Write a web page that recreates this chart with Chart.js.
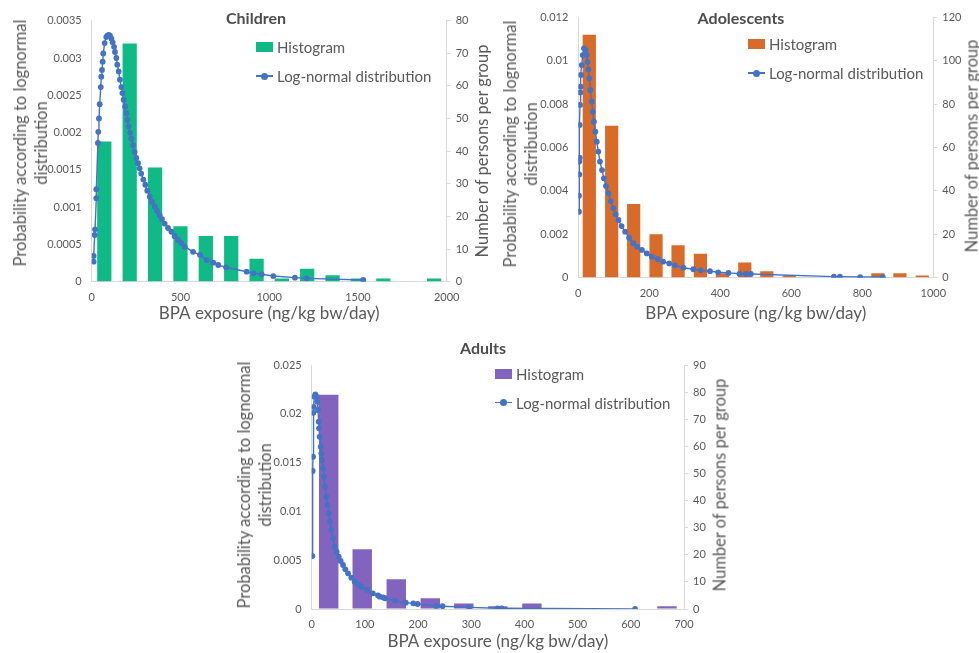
<!DOCTYPE html>
<html>
<head>
<meta charset="utf-8">
<script src="https://cdn.jsdelivr.net/npm/chart.js@4.4.1/dist/chart.umd.min.js"></script>
<style>
    body { margin: 0; background: #fff; }
    #page { position: relative; width: 979px; height: 653px; overflow: hidden; font-family: Lato, sans-serif; }
    .panel { position: absolute; }
    .title { position: absolute; font: bold 16px Lato, sans-serif; color: #4d4d4d; transform: translate(-50%, -50%); white-space: nowrap; }
    .rtitle { position: absolute; font: 16.5px Lato, sans-serif; line-height: 21px; color: #595959; text-align: center; transform: translate(-50%, -50%) rotate(-90deg); white-space: nowrap; }
    .lrow { position: absolute; height: 20px; line-height: 20px; font: 15px Lato, sans-serif; color: #595959; white-space: nowrap; display: flex; align-items: center; }
    .swatch { position: relative; width: 17px; height: 10px; margin-right: 4px; }
    .swatch .ln { position: absolute; left: 0; right: 0; top: 4px; height: 1.5px; }
    .swatch .dot { position: absolute; left: 5px; top: 1.5px; width: 7px; height: 7px; border-radius: 50%; }
</style>
</head>
<body>
<div id="page"></div>
<script>
// histogram: bin centres (ng/kg bw/day) and number of persons per bin
const childBins = [71, 214, 357, 500, 643, 786, 929, 1071, 1214, 1357, 1500, 1643, 1786, 1929];
const childCounts = [43, 73, 35, 17, 14, 14, 7, 1, 4, 2, 1, 1, 0, 1];
const teenBins = [31, 94, 156, 219, 281, 344, 406, 469, 531, 594, 656, 719, 781, 844, 906, 969];
const teenCounts = [112, 70, 34, 20, 15, 11, 2, 7, 3, 1, 0, 0, 0, 2, 2, 1];
const adultBins = [32, 95, 159, 223, 286, 350, 414, 477, 541, 605, 668];
const adultCounts = [79, 22, 11, 4, 2, 1, 2, 0, 0, 0, 1];

// log-normal curve
const childCurveX = [11, 11, 17, 19, 26, 26, 35, 37, 41, 45, 51, 54, 58, 62, 65, 73, 82, 88, 96, 103, 111, 118, 126, 131, 139, 144, 152, 159, 167, 173, 180, 188, 195, 201, 208, 216, 223, 233, 242, 251, 261, 270, 279, 291, 302, 313, 327, 340, 355, 368, 383, 396, 411, 430, 449, 467, 486, 505, 524, 571, 610, 648, 685, 713, 757, 873, 911, 958, 1023, 1145, 1211, 1530];
const childCurveY = [0.000268, 0.000345, 0.000626, 0.000703, 0.00112, 0.00124, 0.00186, 0.00201, 0.00219, 0.00238, 0.00261, 0.00275, 0.00284, 0.00295, 0.00306, 0.0032, 0.00328, 0.0033, 0.00331, 0.0033, 0.00326, 0.00321, 0.00315, 0.00308, 0.003, 0.00291, 0.00282, 0.00271, 0.00261, 0.00253, 0.00244, 0.00235, 0.00226, 0.00217, 0.00208, 0.002, 0.00192, 0.00183, 0.00174, 0.00166, 0.00159, 0.00152, 0.00145, 0.00137, 0.0013, 0.00122, 0.00114, 0.00107, 0.00101, 0.00095, 0.00089, 0.00084, 0.00078, 0.00072, 0.00067, 0.00061, 0.00056, 0.00052, 0.00047, 0.0004, 0.00036, 0.00029, 0.000255, 0.000224, 0.000193, 0.000134, 0.000112, 0.000099, 0.000076, 0.000054, 0.000045, 0.000023];
const teenCurveX = [2, 2, 2.8, 2.8, 3.9, 3.9, 4.8, 5.6, 6.6, 7.6, 9.6, 12.4, 16, 21, 23.6, 26, 28.3, 31, 33.9, 38, 40.5, 44, 48, 52, 56.4, 61, 66.8, 72, 78, 85, 91.2, 99, 105.3, 113, 122, 132, 143, 155, 166, 179, 193, 207, 224, 239, 256, 272, 296, 324, 345, 371, 394, 423, 454, 472, 486, 720, 737, 794, 858];
const teenCurveY = [0.00304, 0.00378, 0.00476, 0.00535, 0.00553, 0.00704, 0.00796, 0.00854, 0.0088, 0.00934, 0.0098, 0.01026, 0.01057, 0.01049, 0.01026, 0.00995, 0.0096, 0.00919, 0.00865, 0.00811, 0.00765, 0.00719, 0.00673, 0.00627, 0.00581, 0.00535, 0.00496, 0.00458, 0.00423, 0.00389, 0.00353, 0.0032, 0.00292, 0.00266, 0.00238, 0.00212, 0.00184, 0.00159, 0.00143, 0.00128, 0.00112, 0.00097, 0.00085, 0.00074, 0.00066, 0.00057, 0.00046, 0.00039, 0.00034, 0.0003, 0.00025, 0.00022, 0.00018, 0.00017, 0.00017, 0.00005, 0.00005, 0.00003, 0.00003];
const adultCurveX = [1.2, 1.8, 2.5, 3.1, 3.8, 5, 6.8, 9.4, 10.5, 11.8, 13.2, 13.7, 15, 16.9, 18.1, 19.4, 21.2, 23.1, 25, 27.5, 29.4, 32, 34.4, 36.9, 40, 43.2, 46.9, 50.8, 54.5, 58.9, 63.2, 68.3, 74.5, 80.8, 87, 93.3, 104, 115, 124.6, 128, 134, 138, 157, 177, 191, 199, 234, 246, 296, 349, 357, 608];
const adultCurveY = [0.00543, 0.01414, 0.0156, 0.0201, 0.0207, 0.02175, 0.022, 0.02175, 0.02124, 0.02039, 0.01919, 0.01851, 0.01765, 0.01663, 0.01595, 0.01527, 0.01441, 0.01355, 0.01253, 0.0115, 0.01066, 0.0098, 0.00895, 0.0081, 0.00724, 0.00638, 0.00587, 0.00536, 0.00492, 0.00451, 0.00406, 0.00366, 0.00321, 0.0028, 0.00253, 0.00228, 0.00195, 0.00161, 0.0014, 0.00126, 0.0012, 0.0011, 0.00085, 0.00065, 0.00058, 0.00051, 0.00031, 0.00028, 0.00017, 0.00007, 0.00007, 0];

// tick labels
const childExposureTicks = [0, 500, 1000, 1500, 2000];
const childProbTicks = [0, 0.0005, 0.001, 0.0015, 0.002, 0.0025, 0.003, 0.0035];
const childCountTicks = [0, 10, 20, 30, 40, 50, 60, 70, 80];
const teenExposureTicks = [0, 200, 400, 600, 800, 1000];
const teenProbTicks = [0, 0.002, 0.004, 0.006, 0.008, 0.01, 0.012];
const teenCountTicks = [0, 20, 40, 60, 80, 100, 120];
const adultExposureTicks = [0, 100, 200, 300, 400, 500, 600, 700];
const adultProbTicks = [0, 0.005, 0.01, 0.015, 0.02, 0.025];
const adultCountTicks = [0, 10, 20, 30, 40, 50, 60, 70, 80, 90];

const lineBlue = '#4472C4';
const axisGray = '#d9d9d9';
const textGray = '#595959';
const fontName = 'Lato';

function pairs(xs, ys) {
    return xs.map(function (x, i) { return { x: x, y: ys[i] }; });
}

function setTicks(list) {
    return function (scale) {
        scale.ticks = list.map(function (v) { return { value: v }; });
    };
}

function fmt(v) {
    return String(Number(v.toFixed(6)));
}

function addText(cls, lines, x, y) {
    let el = document.createElement('div');
    el.className = cls;
    lines.forEach(function (t, i) {
        if (i > 0) el.appendChild(document.createElement('br'));
        el.appendChild(document.createTextNode(t));
    });
    el.style.left = x + 'px';
    el.style.top = y + 'px';
    document.getElementById('page').appendChild(el);
}

function drawPanel(p) {
    let page = document.getElementById('page');

    let wrap = document.createElement('div');
    wrap.className = 'panel';
    wrap.style.left = p.left + 'px';
    wrap.style.top = p.top + 'px';
    let canvas = document.createElement('canvas');
    canvas.width = p.width;
    canvas.height = p.height;
    canvas.style.width = p.width + 'px';
    canvas.style.height = p.height + 'px';
    wrap.appendChild(canvas);
    page.appendChild(wrap);

    addText('title', [p.title], p.titleX, p.titleY);
    // both y titles read bottom-to-top
    addText('rtitle', ['Probability according to lognormal', 'distribution'], p.lTitleX, p.lTitleY);
    addText('rtitle', ['Number of persons per group'], p.rTitleX, p.rTitleY);

    let chart = new Chart(canvas.getContext('2d'), {
        type: 'bar',
        data: {
            datasets: [{
                type: 'bar',
                label: 'Histogram',
                data: pairs(p.bins, p.counts),
                yAxisID: 'y1',
                order: 2,
                backgroundColor: p.color,
                borderWidth: 0,
                categoryPercentage: 1,
                barPercentage: p.barPct
            }, {
                type: 'line',
                label: 'Log-normal distribution',
                data: pairs(p.curveX, p.curveY),
                yAxisID: 'y',
                order: 1,
                borderColor: lineBlue,
                backgroundColor: lineBlue,
                borderWidth: 1.4,
                pointRadius: 2.9,
                pointBorderWidth: 0,
                pointBackgroundColor: lineBlue,
                tension: 0
            }]
        },
        options: {
            responsive: false,
            animation: false,
            layout: { padding: { top: p.plotTop, left: 0, right: 0, bottom: 0 } },
            plugins: {
                legend: { display: false },
                title: { display: false },
                tooltip: { enabled: false }
            },
            scales: {
                x: {
                    type: 'linear',
                    min: p.xTicks[0],
                    max: p.xTicks[p.xTicks.length - 1],
                    offset: false,
                    grid: { display: false, drawTicks: false, offset: false },
                    border: { display: true, color: axisGray },
                    afterBuildTicks: setTicks(p.xTicks),
                    afterFit: function (s) { s.height = p.bottomH; },
                    ticks: { padding: 9, color: textGray, autoSkip: false, maxRotation: 0, font: { family: fontName, size: 11 }, callback: fmt },
                    title: { display: true, text: 'BPA exposure (ng/kg bw/day)', color: textGray, font: { family: fontName, size: 17 }, padding: { top: 0, bottom: p.xTitlePad } }
                },
                y: {
                    position: 'left',
                    min: 0,
                    max: p.probTicks[p.probTicks.length - 1],
                    grid: { display: false, drawTicks: false },
                    border: { display: true, color: axisGray },
                    afterBuildTicks: setTicks(p.probTicks),
                    afterFit: function (s) { s.width = p.leftW; },
                    ticks: { padding: 10, color: textGray, font: { family: fontName, size: 11 }, callback: fmt },
                    title: { display: false }
                },
                y1: {
                    position: 'right',
                    min: 0,
                    max: p.countTicks[p.countTicks.length - 1],
                    grid: { display: true, drawOnChartArea: false, drawTicks: true, tickLength: 4, color: axisGray },
                    border: { display: true, color: axisGray },
                    afterBuildTicks: setTicks(p.countTicks),
                    afterFit: function (s) { s.width = p.rightW; },
                    ticks: { padding: 5, color: textGray, font: { family: fontName, size: 11 }, callback: fmt },
                    title: { display: false }
                }
            }
        }
    });

    // legend built from the chart's own datasets
    chart.data.datasets.forEach(function (ds, i) {
        let row = document.createElement('div');
        row.className = 'lrow';
        row.style.left = p.legendX + 'px';
        row.style.top = (p.legendY[i] - 10) + 'px';
        let sw = document.createElement('div');
        sw.className = 'swatch';
        if (ds.type === 'bar') {
            sw.style.background = ds.backgroundColor;
        } else {
            sw.innerHTML = "<div class='ln' style='background:" + ds.borderColor + "'></div>" +
                "<div class='dot' style='background:" + ds.borderColor + "'></div>";
        }
        row.appendChild(sw);
        row.appendChild(document.createTextNode(ds.label));
        page.appendChild(row);
    });
}

drawPanel({
    title: 'Children', titleX: 256, titleY: 17,
    left: 0, top: 0, width: 490, height: 327,
    plotTop: 20.7, leftW: 91.7, rightW: 43.3, bottomH: 45.3, xTitlePad: 2.8,
    lTitleX: 30.5, lTitleY: 143, rTitleX: 482, rTitleY: 151,
    bins: childBins, counts: childCounts, color: '#0fba86', barPct: 0.565,
    curveX: childCurveX, curveY: childCurveY,
    xTicks: childExposureTicks, probTicks: childProbTicks, countTicks: childCountTicks,
    legendX: 256, legendY: [46.7, 76]
});

drawPanel({
    title: 'Adolescents', titleX: 741, titleY: 16.5,
    left: 490, top: 0, width: 489, height: 327,
    plotTop: 17.3, leftW: 88.3, rightW: 45.7, bottomH: 49.3, xTitlePad: 2.8,
    lTitleX: 521, lTitleY: 144, rTitleX: 971.5, rTitleY: 146,
    bins: teenBins, counts: teenCounts, color: '#d86b29', barPct: 0.6,
    curveX: teenCurveX, curveY: teenCurveY,
    xTicks: teenExposureTicks, probTicks: teenProbTicks, countTicks: teenCountTicks,
    legendX: 748, legendY: [44.3, 73.3]
});

drawPanel({
    title: 'Adults', titleX: 483, titleY: 347,
    left: 224, top: 330, width: 504, height: 323,
    plotTop: 35, leftW: 87.7, rightW: 44, bottomH: 44, xTitlePad: 0.8,
    lTitleX: 254.5, lTitleY: 485, rTitleX: 720, rTitleY: 485,
    bins: adultBins, counts: adultCounts, color: '#8264bf', barPct: 0.58,
    curveX: adultCurveX, curveY: adultCurveY,
    xTicks: adultExposureTicks, probTicks: adultProbTicks, countTicks: adultCountTicks,
    legendX: 495, legendY: [374, 402.7]
});
</script>
</body>
</html>
